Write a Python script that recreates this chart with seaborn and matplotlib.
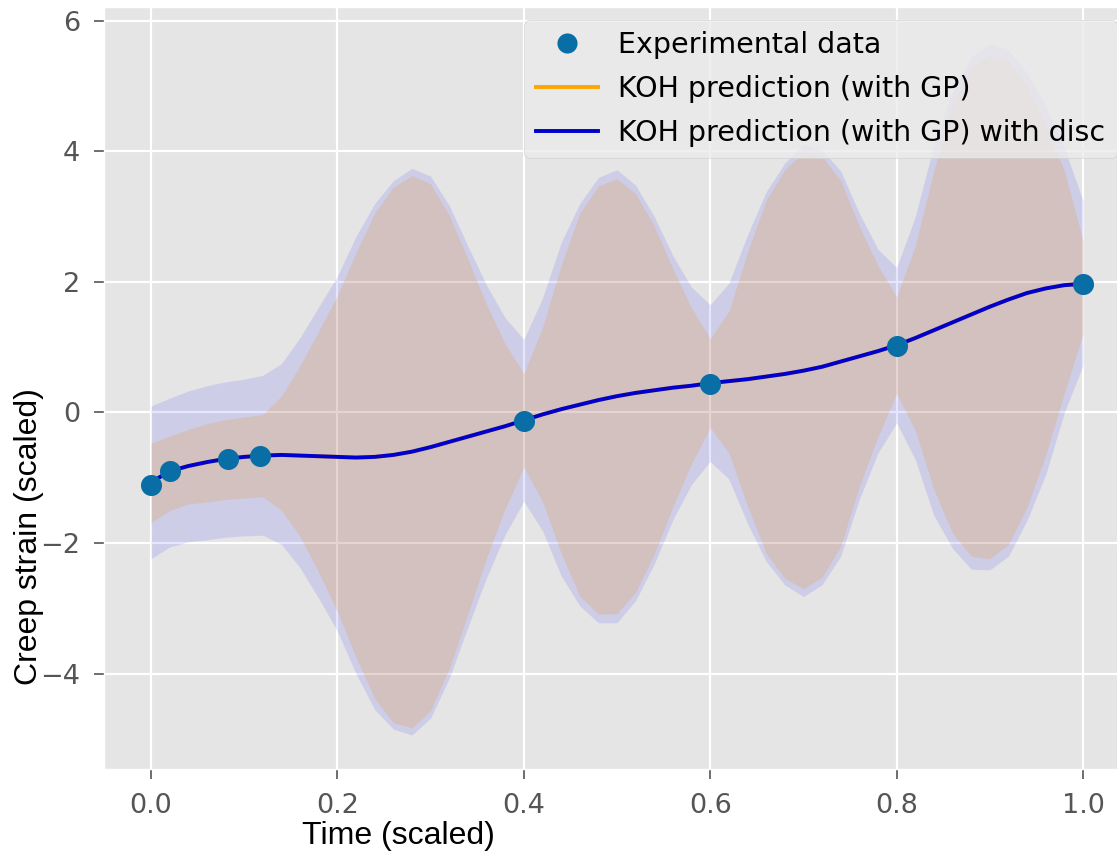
import matplotlib
matplotlib.use("Agg")
import matplotlib.pyplot as plt
import seaborn as sns
import pandas as pd
from matplotlib.lines import Line2D

# ---------------- data ----------------
exp_time = [0.0, 0.02, 0.083, 0.117, 0.4, 0.6, 0.8, 1.0]
exp_strain = [-1.11, -0.89, -0.71, -0.67, -0.13, 0.44, 1.02, 1.97]

pred_time = [0.00, 0.02, 0.04, 0.06, 0.08, 0.10, 0.12, 0.14, 0.16, 0.18,
             0.20, 0.22, 0.24, 0.26, 0.28, 0.30, 0.32, 0.34, 0.36, 0.38,
             0.40, 0.42, 0.44, 0.46, 0.48, 0.50, 0.52, 0.54, 0.56, 0.58,
             0.60, 0.62, 0.64, 0.66, 0.68, 0.70, 0.72, 0.74, 0.76, 0.78,
             0.80, 0.82, 0.84, 0.86, 0.88, 0.90, 0.92, 0.94, 0.96, 0.98,
             1.00]

pred_mean = [-1.07, -0.90, -0.82, -0.76, -0.71, -0.68, -0.66, -0.65, -0.66, -0.67,
             -0.68, -0.69, -0.68, -0.65, -0.60, -0.53, -0.45, -0.37, -0.29, -0.21,
             -0.12, -0.03, 0.05, 0.12, 0.19, 0.25, 0.30, 0.34, 0.38, 0.41,
             0.45, 0.48, 0.51, 0.55, 0.59, 0.64, 0.70, 0.78, 0.86, 0.94,
             1.03, 1.14, 1.26, 1.38, 1.50, 1.62, 1.73, 1.83, 1.90, 1.95,
             1.97]

# KOH prediction (with GP): band
gp_upper = [-0.47, -0.36, -0.26, -0.17, -0.11, -0.07, -0.03, 0.25, 0.72, 1.25,
            1.79, 2.45, 3.05, 3.45, 3.63, 3.50, 3.02, 2.35, 1.65, 1.05,
            0.60, 1.30, 2.25, 3.05, 3.47, 3.58, 3.35, 2.85, 2.20, 1.60,
            1.13, 1.55, 2.45, 3.25, 3.72, 3.98, 3.92, 3.55, 2.85, 2.25,
            1.77, 2.55, 3.70, 4.72, 5.28, 5.48, 5.38, 5.00, 4.40, 3.70,
            2.64]
gp_lower = [-1.69, -1.50, -1.40, -1.37, -1.33, -1.31, -1.29, -1.50, -1.90, -2.45,
            -3.05, -3.75, -4.38, -4.75, -4.83, -4.56, -3.92, -3.09, -2.23, -1.47,
            -0.84, -1.36, -2.15, -2.81, -3.09, -3.08, -2.75, -2.17, -1.44, -0.78,
            -0.23, -0.62, -1.43, -2.15, -2.54, -2.70, -2.52, -2.05, -1.13, -0.37,
            0.29, -0.27, -1.18, -1.85, -2.20, -2.24, -2.02, -1.45, -0.65, 0.30,
            1.20]

# KOH prediction (with GP) with discrepancy: band
disc_upper = [0.10, 0.22, 0.33, 0.41, 0.47, 0.51, 0.57, 0.75, 1.15, 1.62,
              2.09, 2.70, 3.20, 3.55, 3.74, 3.62, 3.17, 2.55, 1.95, 1.45,
              1.12, 1.75, 2.60, 3.20, 3.60, 3.72, 3.48, 3.00, 2.40, 1.92,
              1.65, 1.98, 2.72, 3.38, 3.82, 4.10, 4.02, 3.70, 3.05, 2.50,
              2.22, 3.00, 4.10, 4.92, 5.45, 5.65, 5.56, 5.20, 4.70, 4.05,
              3.25]
disc_lower = [-2.24, -2.06, -1.98, -1.95, -1.91, -1.89, -1.88, -2.02, -2.38, -2.85,
              -3.35, -4.00, -4.55, -4.85, -4.94, -4.68, -4.07, -3.29, -2.53, -1.87,
              -1.36, -1.81, -2.50, -2.96, -3.22, -3.22, -2.88, -2.32, -1.64, -1.10,
              -0.75, -1.02, -1.70, -2.28, -2.64, -2.82, -2.64, -2.20, -1.33, -0.62,
              -0.16, -0.72, -1.58, -2.08, -2.40, -2.41, -2.20, -1.65, -0.95, 0.00,
              0.72]

x_ticks = [0.0, 0.2, 0.4, 0.6, 0.8, 1.0]
y_ticks = [-4, -2, 0, 2, 4, 6]

legend_labels = ["Experimental data", "KOH prediction (with GP)",
                 "KOH prediction (with GP) with disc"]

# ---------------- style ----------------
plt.style.use("ggplot")
plt.rcParams["font.family"] = ["DejaVu Sans"]

W, H = 1117, 857
fig = plt.figure(figsize=(W / 100, H / 100), dpi=100)
ax_left, ax_right, ax_top, ax_bottom = 104.4, 1129.6, 7, 769
ax = fig.add_axes([ax_left / W, 1 - ax_bottom / H,
                   (ax_right - ax_left) / W, (ax_bottom - ax_top) / H])

pred = pd.DataFrame({"t": pred_time, "m": pred_mean})
exp = pd.DataFrame({"t": exp_time, "y": exp_strain})

ax.fill_between(pred_time, gp_lower, gp_upper, color="orange", alpha=0.2,
                linewidth=0, zorder=2)
ax.fill_between(pred_time, disc_lower, disc_upper, color="blue", alpha=0.1,
                linewidth=0, zorder=2)

sns.lineplot(data=pred, x="t", y="m", color="orange", linewidth=2.8,
             sort=False, estimator=None, ax=ax, zorder=3, legend=False)
sns.lineplot(data=pred, x="t", y="m", color="mediumblue", linewidth=2.8,
             sort=False, estimator=None, ax=ax, zorder=4, legend=False)
sns.scatterplot(data=exp, x="t", y="y", color="#0A6EA6", s=230,
                linewidth=0, ax=ax, zorder=5, legend=False)

ax.set_xlim(-0.05, 1.05)
ax.set_ylim(-5.46, 6.21)
ax.set_xticks(x_ticks)
ax.set_yticks(y_ticks)
ax.set_xticklabels([f"{v:.1f}" for v in x_ticks])
ax.set_xlabel("")
ax.set_ylabel("")
ax.grid(True, color="white", linewidth=1.6)
ax.tick_params(axis="both", labelsize=19.5, colors="#555555", length=7,
               width=1.2, pad=10.5)

handles = [
    Line2D([], [], linestyle="none", marker="o", markersize=14.5,
           markerfacecolor="#0A6EA6", markeredgewidth=0),
    Line2D([], [], color="orange", linewidth=2.8),
    Line2D([], [], color="mediumblue", linewidth=2.8),
]
leg = ax.legend(handles, legend_labels, loc="upper right", fontsize=20.5,
                handlelength=2.2, handletextpad=0.7, labelspacing=0.55,
                borderaxespad=0.45, framealpha=0.8, facecolor="#EBEBEB",
                edgecolor="#CCCCCC")
leg.set_zorder(10)

fig.text(398 / W, 1 - 836 / H, "Time (scaled)", ha="center", va="center",
         fontsize=23, family="Liberation Sans", color="black")
fig.text(29 / W, 1 - 537 / H, "Creep strain (scaled)", ha="center",
         va="center", rotation=90, fontsize=23, family="Liberation Sans",
         color="black")

fig.savefig("out.png", dpi=100)
